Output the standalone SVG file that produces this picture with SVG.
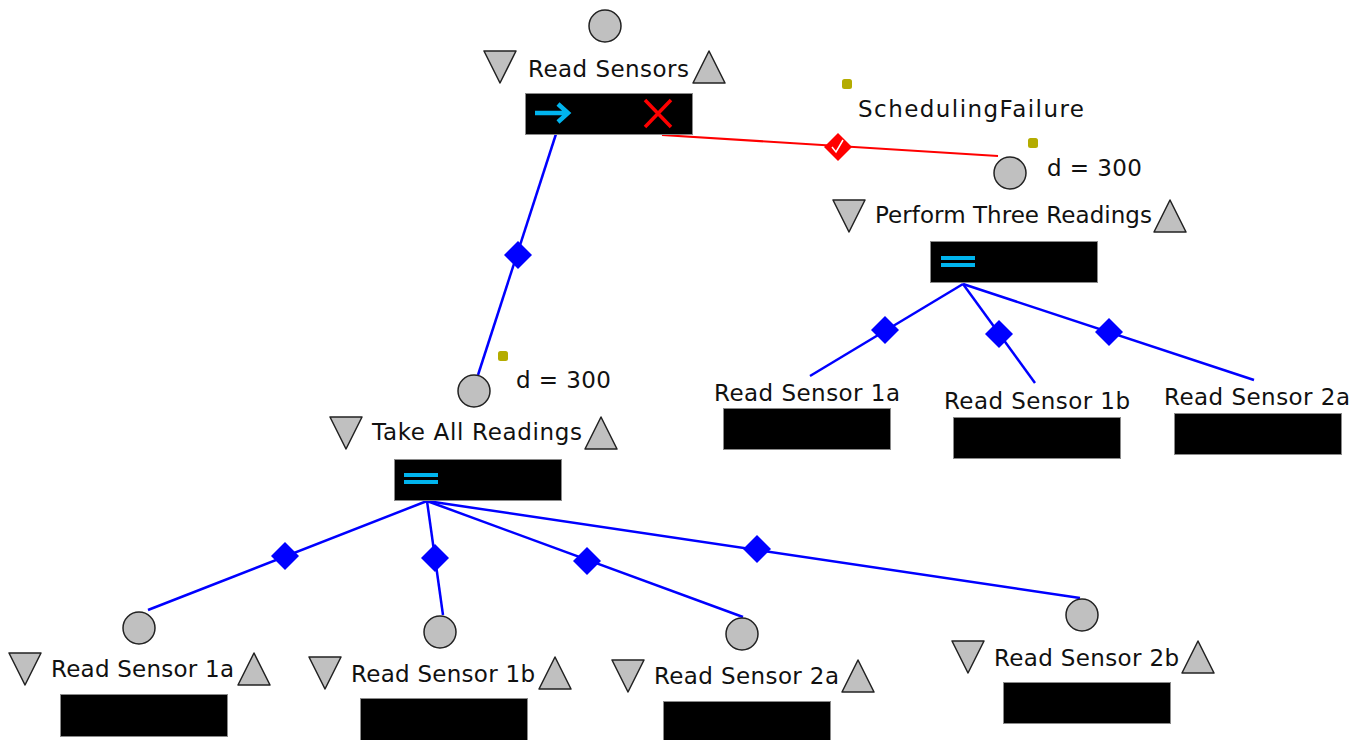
<svg xmlns="http://www.w3.org/2000/svg" width="1370" height="740" viewBox="0 0 1370 740">
  <style>
    .lbl { font-family: "DejaVu Sans", "Liberation Sans", sans-serif; font-size: 23px; fill: #111; }
    .port { fill: #c0c0c0; stroke: #222; stroke-width: 1.5; stroke-linejoin: round; }
    .box { fill: #000; stroke: #8a8a8a; stroke-width: 1; }
    .dec { fill: #0000ff; }
    .link { stroke: #0000ff; stroke-width: 2.5; fill: none; }
    .fail { stroke: #ff0000; stroke-width: 2; fill: none; }
    .dot { fill: #b4ac00; }
    .seq { fill: #00b4ee; }
  </style>
  <defs>
    <circle id="start" r="16" class="port"/>
    <polygon id="tdown" points="-16,0 16,0 0,32" class="port"/>
    <polygon id="tup" points="0,0 16,32 -16,32" class="port"/>
    <polygon id="dia" points="0,-14 14,0 0,14 -14,0" class="dec"/>
    <rect id="dot" x="-5" y="-5" width="10" height="10" rx="2.5" class="dot"/>
    <g id="par">
      <rect x="0" y="0" width="34" height="4" class="seq"/>
      <rect x="0" y="7" width="34" height="4" class="seq"/>
    </g>
  </defs>

  <rect width="1370" height="740" fill="#fff"/>

  <!-- connectors -->
  <g id="connectors">
    <line x1="556" y1="134" x2="478" y2="375" class="link"/>
    <use href="#dia" x="518" y="255"/>

    <line x1="662" y1="135" x2="998" y2="156" class="fail"/>
    <polygon points="838,133 852,147 838,161 824,147" fill="#ff0000"/>
    <path d="M832,147 L836,152 L843,140" stroke="#fff" stroke-width="1.5" fill="none"/>

    <line x1="963" y1="284" x2="810" y2="376" class="link"/>
    <use href="#dia" x="885" y="330"/>
    <line x1="963" y1="284" x2="1035" y2="383" class="link"/>
    <use href="#dia" x="999" y="334"/>
    <line x1="963" y1="284" x2="1254" y2="380" class="link"/>
    <use href="#dia" x="1109" y="332"/>

    <line x1="427" y1="501" x2="148" y2="610" class="link"/>
    <use href="#dia" x="285" y="556"/>
    <line x1="427" y1="501" x2="443" y2="615" class="link"/>
    <use href="#dia" x="435" y="558"/>
    <line x1="427" y1="501" x2="743" y2="617" class="link"/>
    <use href="#dia" x="587" y="561"/>
    <line x1="427" y1="501" x2="1080" y2="598" class="link"/>
    <use href="#dia" x="757" y="549"/>
  </g>

  <!-- root task -->
  <g id="read-sensors">
    <use href="#start" x="605" y="26"/>
    <use href="#tdown" x="500" y="51"/>
    <text class="lbl" x="528" y="77" textLength="161" lengthAdjust="spacing">Read Sensors</text>
    <use href="#tup" x="709" y="51"/>
    <rect x="525.5" y="93.5" width="167" height="41" class="box"/>
    <path d="M535,113 H567 M558,104 L568,113 L558,122" stroke="#00b4ee" stroke-width="4.5" fill="none"/>
    <path d="M645,100 L671,127 M671,100 L645,127" stroke="#ff0000" stroke-width="3.5"/>
  </g>

  <g id="scheduling-failure">
    <use href="#dot" x="847" y="84"/>
    <text class="lbl" x="858" y="117" textLength="226" lengthAdjust="spacing">SchedulingFailure</text>
  </g>

  <!-- failure handler -->
  <g id="perform-three-readings">
    <use href="#dot" x="1033" y="143"/>
    <use href="#start" x="1010" y="173"/>
    <text class="lbl" x="1047" y="176" textLength="95" lengthAdjust="spacing">d = 300</text>
    <use href="#tdown" x="849" y="200"/>
    <text class="lbl" x="875" y="223" textLength="277" lengthAdjust="spacing">Perform Three Readings</text>
    <use href="#tup" x="1170" y="200"/>
    <rect x="930.5" y="241.5" width="167" height="41" class="box"/>
    <use href="#par" x="941" y="256"/>
  </g>

  <g id="p-read-sensor-1a">
    <text class="lbl" x="714" y="401" textLength="186" lengthAdjust="spacing">Read Sensor 1a</text>
    <rect x="723.5" y="408.5" width="167" height="41" class="box"/>
  </g>
  <g id="p-read-sensor-1b">
    <text class="lbl" x="944" y="409" textLength="186" lengthAdjust="spacing">Read Sensor 1b</text>
    <rect x="953.5" y="417.5" width="167" height="41" class="box"/>
  </g>
  <g id="p-read-sensor-2a">
    <text class="lbl" x="1164" y="405" textLength="186" lengthAdjust="spacing">Read Sensor 2a</text>
    <rect x="1174.5" y="413.5" width="167" height="41" class="box"/>
  </g>

  <!-- main branch -->
  <g id="take-all-readings">
    <use href="#dot" x="503" y="356"/>
    <use href="#start" x="474" y="391"/>
    <text class="lbl" x="516" y="388" textLength="95" lengthAdjust="spacing">d = 300</text>
    <use href="#tdown" x="346" y="417"/>
    <text class="lbl" x="372" y="440" textLength="210" lengthAdjust="spacing">Take All Readings</text>
    <use href="#tup" x="601" y="417"/>
    <rect x="394.5" y="459.5" width="167" height="41" class="box"/>
    <use href="#par" x="404" y="473"/>
  </g>

  <g id="read-sensor-1a">
    <use href="#start" x="139" y="628"/>
    <use href="#tdown" x="25" y="653"/>
    <text class="lbl" x="51" y="677" textLength="183" lengthAdjust="spacing">Read Sensor 1a</text>
    <use href="#tup" x="254" y="653"/>
    <rect x="60.5" y="694.5" width="167" height="42" class="box"/>
  </g>
  <g id="read-sensor-1b">
    <use href="#start" x="440" y="632"/>
    <use href="#tdown" x="325" y="657"/>
    <text class="lbl" x="351" y="682" textLength="184" lengthAdjust="spacing">Read Sensor 1b</text>
    <use href="#tup" x="555" y="657"/>
    <rect x="360.5" y="698.5" width="167" height="45" class="box"/>
  </g>
  <g id="read-sensor-2a">
    <use href="#start" x="742" y="634"/>
    <use href="#tdown" x="628" y="660"/>
    <text class="lbl" x="654" y="684" textLength="185" lengthAdjust="spacing">Read Sensor 2a</text>
    <use href="#tup" x="858" y="660"/>
    <rect x="663.5" y="701.5" width="167" height="45" class="box"/>
  </g>
  <g id="read-sensor-2b">
    <use href="#start" x="1082" y="615"/>
    <use href="#tdown" x="968" y="641"/>
    <text class="lbl" x="994" y="666" textLength="185" lengthAdjust="spacing">Read Sensor 2b</text>
    <use href="#tup" x="1198" y="641"/>
    <rect x="1003.5" y="682.5" width="167" height="41" class="box"/>
  </g>
</svg>
